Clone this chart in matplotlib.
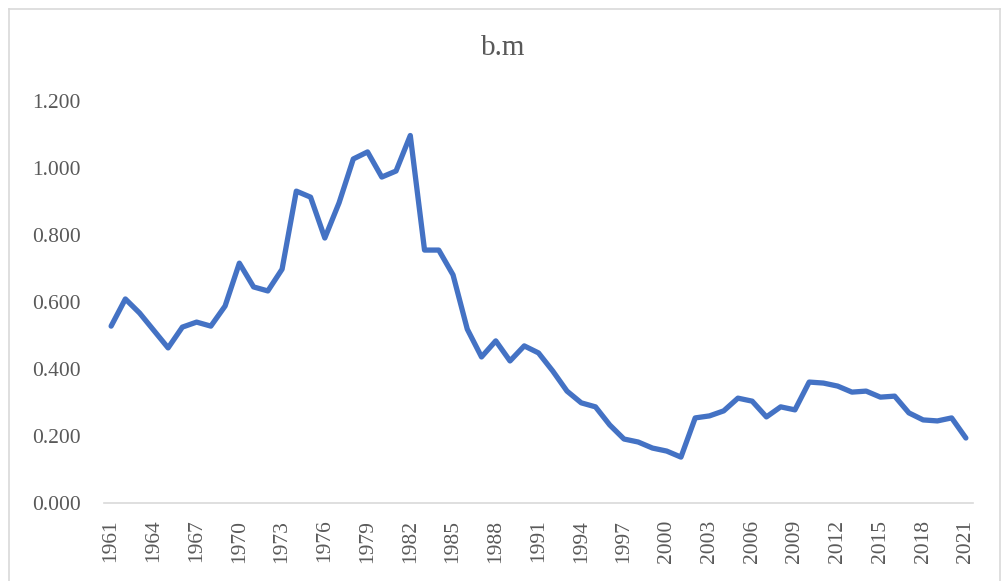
import matplotlib
matplotlib.use("Agg")
import matplotlib.pyplot as plt
from matplotlib.lines import Line2D

years = list(range(1961, 2022))
values = [0.528, 0.609, 0.567, 0.515, 0.463, 0.525, 0.540, 0.528, 0.588, 0.716,
          0.645, 0.633, 0.698, 0.931, 0.913, 0.791, 0.896, 1.027, 1.048, 0.973,
          0.991, 1.097, 0.755, 0.755, 0.681, 0.519, 0.436, 0.484, 0.424, 0.469,
          0.448, 0.394, 0.334, 0.299, 0.287, 0.233, 0.191, 0.182, 0.164, 0.155,
          0.137, 0.254, 0.260, 0.275, 0.313, 0.304, 0.257, 0.287, 0.278, 0.361,
          0.358, 0.349, 0.331, 0.334, 0.316, 0.319, 0.269, 0.248, 0.245, 0.254,
          0.194]
title = "b.m"
y_ticks = [0.0, 0.2, 0.4, 0.6, 0.8, 1.0, 1.2]

plt.rcParams['font.family'] = ['Liberation Serif', 'DejaVu Serif']

W, H = 1006, 581
fig = plt.figure(figsize=(W / 100, H / 100), dpi=100)
ax = fig.add_axes([104 / W, 78 / H, (973 - 104) / W, (503 - 101) / H])

x = list(range(len(years)))
ax.plot(x, values, color='#4472C4', lw=3.8, solid_joinstyle='round', solid_capstyle='round')

ax.set_xlim(-0.5, len(years) - 0.5)
ax.set_ylim(0, 1.2)
ax.set_yticks(y_ticks)
ax.set_yticklabels([f"{v:.3f}" for v in y_ticks])
tick_idx = list(range(0, len(years), 3))
ax.set_xticks(tick_idx)
ax.set_xticklabels([str(years[i]) for i in tick_idx], rotation=90)

for s in ['top', 'right', 'left']:
    ax.spines[s].set_visible(False)
ax.spines['bottom'].set_color('#d9d9d9')
ax.spines['bottom'].set_linewidth(1.2)
ax.tick_params(axis='both', length=0, labelcolor='#595959', labelsize=15.5)
ax.tick_params(axis='y', pad=17)
ax.tick_params(axis='x', pad=12)

fig.text(503 / W, 1 - 48 / H, title, ha='center', va='center', fontsize=21, color='#595959')

# chart border
bc = '#d9d9d9'
fig.add_artist(Line2D([9 / W, 9 / W], [-0.01, 1 - 9 / H], color=bc, lw=1.2, transform=fig.transFigure))
fig.add_artist(Line2D([9 / W, 1000 / W], [1 - 9 / H, 1 - 9 / H], color=bc, lw=1.2, transform=fig.transFigure))
fig.add_artist(Line2D([1000 / W, 1000 / W], [-0.01, 1 - 9 / H], color=bc, lw=1.2, transform=fig.transFigure))

fig.savefig("out.png", dpi=100)
